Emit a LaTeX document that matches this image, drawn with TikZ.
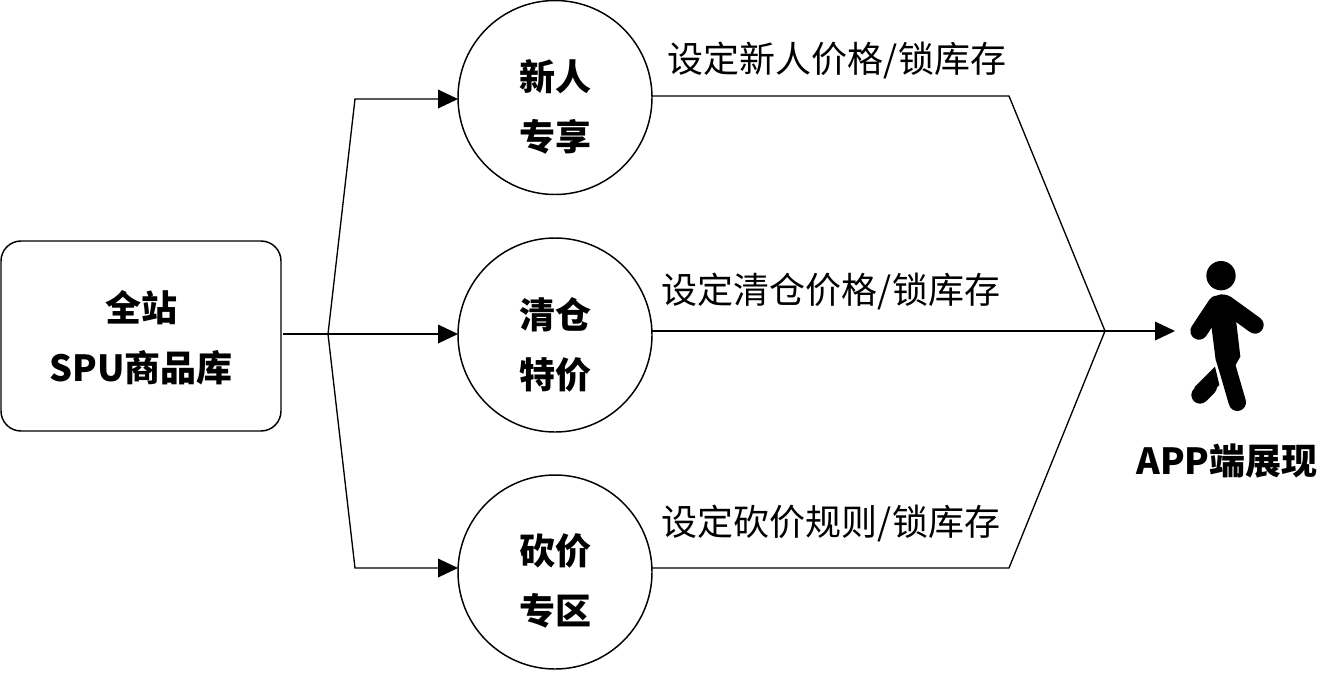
\documentclass[tikz,border=0pt]{standalone}
\usepackage{fontspec}
\setmainfont{Noto Sans CJK SC}
\usetikzlibrary{arrows.meta}
\tikzset{
  x=0.75pt,y=-0.75pt,
  lab/.style={font=\bfseries\fontsize{27}{45}\selectfont,align=center,inner sep=0pt,text=black},
  stage/.style={draw=black,line width=1.1pt,circle,inner sep=0pt,minimum size=145.5pt},
  srcbox/.style={draw=black,line width=1.1pt,rounded corners=15pt,inner sep=0pt,minimum width=210pt,minimum height=142.5pt},
  note/.style={font=\fontsize{27}{30}\selectfont,inner sep=0pt,text=black},
  conn/.style={draw=black,line width=1pt},
  arr/.style={conn,-{Triangle[length=15pt,width=14pt]}},
  person/.style={draw=black,line cap=round,line join=round}
}
\begin{document}
\begin{tikzpicture}
\useasboundingbox (0,0) rectangle (1320,672);
\node[srcbox] (src) at (141,336) {};
\node[stage] (a) at (555,97.5) {};
\node[stage] (b) at (555,335) {};
\node[stage] (c) at (555,572) {};
\node[lab] (srct) at (141,338) {全站\\SPU商品库};
\node[lab] (at) at (555,107) {新人\\专享};
\node[lab] (bt) at (555,344.5) {清仓\\特价};
\node[lab] (ct) at (555,581) {砍价\\专区};
\node[note] (ta) at (837,60) {设定新人价格/锁库存};
\node[note] (tb) at (831,291) {设定清仓价格/锁库存};
\node[note] (tc) at (831,523) {设定砍价规则/锁库存};
\node[lab] (app) at (1227,461) {APP端展现};
\coordinate (j1) at (328,334);
\coordinate (u1) at (355,99);
\coordinate (d1) at (355,568);
\coordinate (j2) at (1105,331);
\coordinate (u2) at (1009,96);
\coordinate (d2) at (1009,568);
\coordinate (ue) at (652,96);
\coordinate (me) at (652,331);
\coordinate (de) at (652,568);
\coordinate (srcout) at (283,334);
\coordinate (ain) at (458,99);
\coordinate (bin) at (458,334);
\coordinate (cin) at (458,568);
\coordinate (user) at (1175,331);
\draw[conn] (srcout) -- (j1);
\draw[arr] (j1) -- (u1) -- (ain);
\draw[arr] (j1) -- (bin);
\draw[arr] (j1) -- (d1) -- (cin);
\draw[conn] (ue) -- (u2) -- (j2);
\draw[conn] (me) -- (j2);
\draw[conn] (de) -- (d2) -- (j2);
\draw[arr] (j2) -- (user);
% person, in coordinates of a 3x crop at (1100,240)
\begin{scope}[shift={(1100,240)},x=0.25pt,y=-0.25pt]
\fill (363,107) circle[radius=44];
\draw[person,line width=13pt] (350,193) -- (297,273);
\draw[person,line width=13pt] (378,192) -- (465,255);
\fill (335,178) .. controls (350,160) and (375,158) .. (392,172) -- (408,240) -- (421,350) -- (405,378) -- (375,440) -- (347,360) -- (335,265) -- (322,200) -- cycle;
\draw[person,line width=13pt] (378,370) -- (412,487);
\fill (345,380) -- (358,435) -- (325,470) -- (283,442) -- cycle;
\draw[person,line width=13pt] (300,465) -- (325,440);
\end{scope}
\end{tikzpicture}
\end{document}
